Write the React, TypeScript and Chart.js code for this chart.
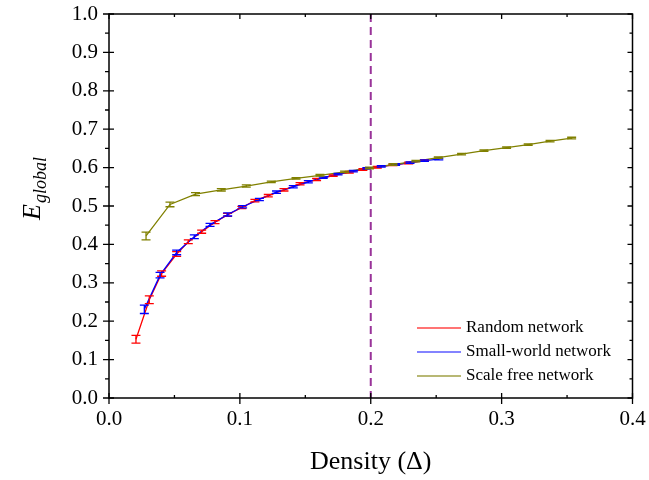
import React, { useEffect, useRef } from 'react';
import { Chart, registerables } from 'chart.js';
Chart.register(...registerables);

// ---- data ----
const randomX = [0.0206, 0.0308, 0.0402, 0.0517, 0.0606, 0.0708, 0.0810, 0.0905, 0.1015, 0.1115, 0.1217, 0.1337, 0.1460, 0.1586, 0.1713, 0.1836, 0.1940, 0.2050, 0.2170, 0.2290, 0.2410];
const randomY = [0.153, 0.256, 0.324, 0.375, 0.407, 0.433, 0.458, 0.477, 0.496, 0.514, 0.527, 0.542, 0.558, 0.569, 0.579, 0.588, 0.595, 0.601, 0.607, 0.612, 0.618];
const randomErr = [0.010, 0.010, 0.007, 0.006, 0.005, 0.004, 0.004, 0.004, 0.003, 0.003, 0.003, 0.003, 0.003, 0.003, 0.002, 0.002, 0.002, 0.002, 0.002, 0.002, 0.002];

const smallX = [0.0270, 0.0390, 0.0517, 0.0652, 0.0772, 0.0907, 0.1021, 0.1149, 0.1280, 0.1408, 0.1523, 0.1637, 0.1750, 0.1867, 0.1970, 0.2080, 0.2190, 0.2300, 0.2410, 0.2520];
const smallY = [0.231, 0.320, 0.379, 0.420, 0.451, 0.478, 0.498, 0.517, 0.536, 0.550, 0.563, 0.574, 0.583, 0.591, 0.598, 0.603, 0.608, 0.613, 0.618, 0.622];
const smallErr = [0.011, 0.007, 0.006, 0.005, 0.004, 0.004, 0.003, 0.003, 0.003, 0.003, 0.003, 0.002, 0.002, 0.002, 0.002, 0.002, 0.002, 0.002, 0.002, 0.002];

const scaleFreeX = [0.0283, 0.0466, 0.0661, 0.0858, 0.1049, 0.1240, 0.1429, 0.1612, 0.1800, 0.1990, 0.2170, 0.2345, 0.2516, 0.2694, 0.2865, 0.3038, 0.3203, 0.3370, 0.3535];
const scaleFreeY = [0.422, 0.504, 0.531, 0.542, 0.552, 0.563, 0.572, 0.580, 0.589, 0.599, 0.608, 0.617, 0.626, 0.635, 0.644, 0.652, 0.660, 0.669, 0.677];
const scaleFreeErr = [0.010, 0.006, 0.004, 0.003, 0.003, 0.002, 0.002, 0.002, 0.002, 0.002, 0.002, 0.002, 0.002, 0.002, 0.002, 0.002, 0.002, 0.002, 0.002];

const seriesNames = ['Random network', 'Small-world network', 'Scale free network'];
const seriesColors = ['#FF0000', '#0000FF', '#808000'];
const legendColors = ['rgba(255,70,70,1)', 'rgba(90,90,255,1)', 'rgba(160,160,70,1)'];
const xMajorTicks = [0, 0.1, 0.2, 0.3, 0.4];
const xMinorTicks = [0.05, 0.15, 0.25, 0.35];
const yMajorTicks = [0, 0.1, 0.2, 0.3, 0.4, 0.5, 0.6, 0.7, 0.8, 0.9, 1.0];
const yMinorTicks = [0.05, 0.15, 0.25, 0.35, 0.45, 0.55, 0.65, 0.75, 0.85, 0.95];
const thresholdX = 0.2;
const xTitle = 'Density (Δ)';

const FONT = "'Liberation Serif', 'Times New Roman', serif";

const toPoints = (xs: number[], ys: number[]) => xs.map((x, i) => ({ x, y: ys[i] }));

const errs = [randomErr, smallErr, scaleFreeErr];

const customPlugin = {
  id: 'custom',
  beforeDatasetsDraw(chart: any) {
    const { ctx, chartArea, scales } = chart;
    const px = scales.x.getPixelForValue(thresholdX);
    ctx.save();
    ctx.strokeStyle = '#993399';
    ctx.lineWidth = 2;
    ctx.setLineDash([8, 5]);
    ctx.beginPath();
    ctx.moveTo(px, chartArea.top);
    ctx.lineTo(px, chartArea.bottom);
    ctx.stroke();
    ctx.restore();
  },
  afterDatasetsDraw(chart: any) {
    const { ctx, scales } = chart;
    ctx.save();
    chart.data.datasets.forEach((ds: any, di: number) => {
      ctx.strokeStyle = seriesColors[di];
      ctx.lineWidth = 1.3;
      ds.data.forEach((p: any, i: number) => {
        const x = scales.x.getPixelForValue(p.x);
        const y1 = scales.y.getPixelForValue(p.y - errs[di][i]);
        const y2 = scales.y.getPixelForValue(p.y + errs[di][i]);
        const hw = 4.5;
        ctx.beginPath();
        ctx.moveTo(x, y1); ctx.lineTo(x, y2);
        ctx.moveTo(x - hw, y1); ctx.lineTo(x + hw, y1);
        ctx.moveTo(x - hw, y2); ctx.lineTo(x + hw, y2);
        ctx.stroke();
      });
    });
    ctx.restore();
  },
  afterDraw(chart: any) {
    const { ctx, chartArea, scales } = chart;
    const { left, right, top, bottom } = chartArea;
    ctx.save();
    ctx.strokeStyle = '#000';
    ctx.lineWidth = 1.5;
    ctx.strokeRect(left, top, right - left, bottom - top);
    ctx.lineWidth = 1.3;
    ctx.beginPath();
    yMajorTicks.forEach(v => {
      const y = scales.y.getPixelForValue(v);
      ctx.moveTo(left - 6, y); ctx.lineTo(left + 5, y);
      ctx.moveTo(right - 5, y); ctx.lineTo(right, y);
    });
    yMinorTicks.forEach(v => {
      const y = scales.y.getPixelForValue(v);
      ctx.moveTo(left - 4, y); ctx.lineTo(left, y);
      ctx.moveTo(right - 3, y); ctx.lineTo(right, y);
    });
    xMajorTicks.forEach(v => {
      const x = scales.x.getPixelForValue(v);
      ctx.moveTo(x, bottom + 6); ctx.lineTo(x, bottom - 5);
      ctx.moveTo(x, top); ctx.lineTo(x, top + 5);
    });
    xMinorTicks.forEach(v => {
      const x = scales.x.getPixelForValue(v);
      ctx.moveTo(x, bottom); ctx.lineTo(x, bottom - 3);
      ctx.moveTo(x, top); ctx.lineTo(x, top + 3);
    });
    ctx.stroke();

    // legend
    const lx = 417, lw = 44;
    const rows = [328, 352, 376];
    ctx.font = `17px ${FONT}`;
    ctx.textBaseline = 'middle';
    ctx.textAlign = 'left';
    seriesNames.forEach((name, i) => {
      ctx.strokeStyle = legendColors[i];
      ctx.lineWidth = 1.3;
      ctx.beginPath();
      ctx.moveTo(lx, rows[i]); ctx.lineTo(lx + lw, rows[i]);
      ctx.stroke();
      ctx.fillStyle = '#000';
      ctx.fillText(name, lx + lw + 5, rows[i]);
    });

    // x title
    ctx.font = `26px ${FONT}`;
    ctx.textAlign = 'center';
    ctx.textBaseline = 'alphabetic';
    ctx.fillText(xTitle, (left + right) / 2, 469);

    // y title
    ctx.translate(40, 220);
    ctx.rotate(-Math.PI / 2);
    ctx.textAlign = 'left';
    ctx.font = `italic 26px ${FONT}`;
    ctx.fillText('E', 0, 0);
    const w = ctx.measureText('E').width;
    ctx.font = `italic 18px ${FONT}`;
    ctx.fillText('global', w + 1, 6);
    ctx.restore();
  },
};

export default function App() {
  const ref = useRef<HTMLCanvasElement>(null);
  useEffect(() => {
    document.body.style.margin = '0';
    const chart = new Chart(ref.current!, {
      type: 'line',
      data: {
        datasets: [
          { label: seriesNames[0], data: toPoints(randomX, randomY), borderColor: seriesColors[0], borderWidth: 1.3, pointRadius: 0, fill: false, tension: 0, order: 3 },
          { label: seriesNames[1], data: toPoints(smallX, smallY), borderColor: seriesColors[1], borderWidth: 1.3, pointRadius: 0, fill: false, tension: 0, order: 2 },
          { label: seriesNames[2], data: toPoints(scaleFreeX, scaleFreeY), borderColor: seriesColors[2], borderWidth: 1.3, pointRadius: 0, fill: false, tension: 0, order: 1 },
        ],
      },
      options: {
        animation: false,
        responsive: false,
        devicePixelRatio: 1,
        layout: { padding: { left: 0, right: 16.5, top: 14, bottom: 0 } },
        plugins: { legend: { display: false }, tooltip: { enabled: false } },
        scales: {
          x: {
            type: 'linear', min: 0, max: 0.4,
            grid: { display: false, drawTicks: false },
            border: { display: false },
            ticks: { stepSize: 0.1, padding: 9, color: '#000', font: { family: FONT, size: 21 }, callback: (v: any) => Number(v).toFixed(1), maxRotation: 0 },
            afterFit: (s: any) => { s.height = 82; s.paddingLeft = 0; s.paddingRight = 0; },
          },
          y: {
            type: 'linear', min: 0, max: 1,
            grid: { display: false, drawTicks: false },
            border: { display: false },
            ticks: { stepSize: 0.1, padding: 11, color: '#000', font: { family: FONT, size: 21 }, callback: (v: any) => Number(v).toFixed(1) },
            afterFit: (s: any) => { s.width = 109; s.paddingTop = 0; s.paddingBottom = 0; },
          },
        },
      },
      plugins: [customPlugin],
    });
    return () => chart.destroy();
  }, []);
  return (
    <div style={{ position: 'fixed', left: 0, top: 0, width: 649, height: 480 }}>
      <canvas ref={ref} width={649} height={480} />
    </div>
  );
}
